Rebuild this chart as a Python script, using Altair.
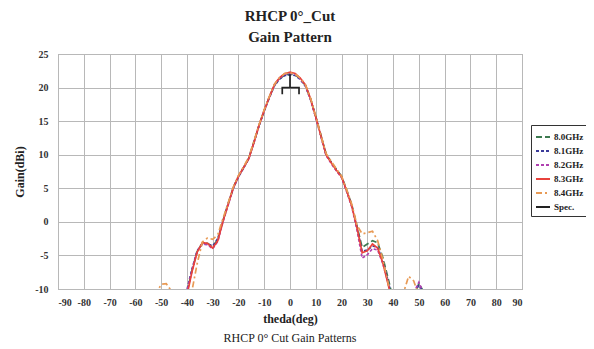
import altair as alt
import pandas as pd

# ---- data ----
theta = [-54, -52, -50, -48, -46, -44, -42, -40, -38, -36, -34, -32, -30, -28, -26, -24, -22, -20, -18, -16,
         -14, -12, -10, -8, -6, -4, -2, 0, 2, 4, 6, 8, 10, 12, 14, 16, 18, 20, 22, 24,
         26, 28, 30, 32, 34, 36, 38, 40, 42, 44, 46, 48, 50, 52, 54]

g80 = [-15, -15, -15, -15, -15, -15, -15, -10.5, -7.2, -4.4, -3.2, -3.2, -3.7, -2.6, 0.2, 2.7, 5.1, 6.8, 8.1, 9.5,
       11.9, 14.4, 16.6, 18.6, 20.4, 21.3, 21.9, 22.0, 21.9, 21.3, 20.3, 18.3, 15.7, 12.9, 10.1, 8.9, 7.8, 6.8, 4.7, 2.5,
       -0.7, -3.8, -3.3, -2.8, -3.1, -5.3, -8.3, -11.5, -15, -15, -15, -11.0, -9.2, -10.5, -15]

g81 = [-15, -15, -15, -15, -15, -15, -15, -10.2, -7.0, -4.3, -3.2, -3.3, -3.6, -2.5, 0.2, 2.7, 5.0, 6.7, 8.0, 9.4,
       11.8, 14.3, 16.5, 18.5, 20.3, 21.3, 21.8, 21.9, 21.8, 21.2, 20.2, 18.2, 15.6, 12.8, 10.0, 8.8, 7.7, 6.7, 4.6, 2.4,
       -0.9, -4.4, -4.2, -3.6, -3.8, -5.8, -8.7, -12.0, -15, -15, -15, -10.8, -9.4, -10.6, -15]

g82 = [-15, -15, -15, -15, -15, -15, -15, -10.4, -7.2, -4.4, -3.3, -3.4, -4.0, -2.9, 0.0, 2.5, 5.0, 6.7, 8.1, 9.4,
       11.8, 14.4, 16.6, 18.6, 20.4, 21.4, 22.0, 22.1, 22.0, 21.3, 20.3, 18.2, 15.5, 12.7, 9.9, 8.7, 7.6, 6.6, 4.5, 2.2,
       -1.2, -5.4, -4.9, -4.0, -4.2, -6.2, -9.0, -12.3, -15, -15, -15, -10.6, -9.0, -10.8, -15]

g83 = [-15, -15, -15, -15, -15, -15, -15, -11.0, -7.4, -4.5, -3.1, -3.2, -3.9, -2.8, 0.1, 2.6, 5.1, 6.8, 8.1, 9.4,
       11.8, 14.4, 16.6, 18.6, 20.5, 21.5, 22.1, 22.3, 22.1, 21.4, 20.4, 18.3, 15.6, 12.8, 10.0, 8.8, 7.7, 6.7, 4.6, 2.3,
       -0.9, -4.6, -4.3, -3.3, -3.9, -6.1, -9.2, -12.5, -15, -15, -15, -15, -15, -15, -15]

g84 = [-13, -10.8, -9.3, -9.2, -10.3, -13, -15, -14, -10.2, -6.2, -3.0, -2.4, -2.6, -1.9, 0.5, 2.8, 5.2, 6.9, 8.2, 9.6,
       12.0, 14.5, 16.7, 18.7, 20.5, 21.5, 22.1, 22.2, 22.0, 21.4, 20.4, 18.4, 15.7, 12.9, 10.2, 9.0, 7.9, 6.8, 4.8, 2.6,
       -0.5, -1.8, -1.6, -1.4, -2.8, -5.6, -9.0, -12.5, -14, -10.6, -8.1, -8.8, -11.0, -14, -15]

spec_theta = [-3, -3, 0, 0, 0, 3.5, 3.5]
spec_gain = [19, 20, 20, 22, 20, 20, 19]

series = ["8.0GHz", "8.1GHz", "8.2GHz", "8.3GHz", "8.4GHz", "Spec."]
colors = ["#3d7a50", "#3b3b9a", "#b040b0", "#e8423c", "#e89a55", "#222222"]
dashes = [[6, 3], [3, 2], [3, 2], [1, 0], [6, 3, 2, 3], [1, 0]]

x_ticks = list(range(-90, 91, 10))
y_ticks = list(range(-10, 26, 5))

title_lines = ["RHCP 0°_Cut", "Gain Pattern"]
caption = "RHCP 0° Cut Gain Patterns"

# ---- build table ----
rows = []
for name, vals in zip(series[:5], [g80, g81, g82, g83, g84]):
    for i, (t, g) in enumerate(zip(theta, vals)):
        rows.append({"series": name, "theta": t, "gain": g, "idx": i})
for i, (t, g) in enumerate(zip(spec_theta, spec_gain)):
    rows.append({"series": "Spec.", "theta": t, "gain": g, "idx": i})
df = pd.DataFrame(rows)

serif = "Times New Roman, Liberation Serif, serif"

legend_kw = dict(title=None, orient="none", legendX=473, legendY=71)

lines = alt.Chart(df).mark_line(strokeWidth=1.7, clip=True).encode(
    x=alt.X("theta:Q", scale=alt.Scale(domain=[-90, 90], nice=False),
            axis=alt.Axis(values=x_ticks, title="theda(deg)", labelPadding=8, titlePadding=6,
                          labelExpr="'' + datum.value")),
    y=alt.Y("gain:Q", scale=alt.Scale(domain=[-10, 25], nice=False),
            axis=alt.Axis(values=y_ticks, title="Gain(dBi)", labelPadding=10, titlePadding=8,
                          labelExpr="'' + datum.value")),
    color=alt.Color("series:N", scale=alt.Scale(domain=series, range=colors),
                    legend=alt.Legend(**legend_kw)),
    strokeDash=alt.StrokeDash("series:N", scale=alt.Scale(domain=series, range=dashes),
                              legend=alt.Legend(**legend_kw)),
    detail="series:N",
    order=alt.Order("idx:Q"),
)

cap = alt.Chart(pd.DataFrame({"t": [caption]})).mark_text(
    font=serif, fontSize=12, color="#222", clip=False
).encode(text="t:N", x=alt.value(232), y=alt.value(284))

chart = alt.layer(lines, cap).properties(
    width=464, height=235,
    title=alt.TitleParams(title_lines, font=serif, fontSize=15, fontWeight="bold",
                          color="#222", anchor="middle", lineHeight=21, offset=4),
    autosize=alt.AutoSizeParams(type="none"),
    padding={"left": 50, "top": 46, "right": 64, "bottom": 56},
).configure_view(
    stroke="#999", strokeWidth=1
).configure_axis(
    grid=True, gridColor="#b8b8b8", gridWidth=1, ticks=False, domain=False,
    labelFont=serif, labelFontWeight="bold", labelFontSize=10, labelColor="#333",
    titleFont=serif, titleFontWeight="bold", titleFontSize=12, titleColor="#222",
).configure_legend(
    strokeColor="#333", fillColor="white", padding=4, rowPadding=1,
    labelFont=serif, labelFontWeight="bold", labelFontSize=9, labelColor="#222",
    symbolType="stroke", symbolSize=196, symbolStrokeWidth=2, labelOffset=3,
)

chart.save("out.html", embed_options={"renderer": "svg", "actions": False})
